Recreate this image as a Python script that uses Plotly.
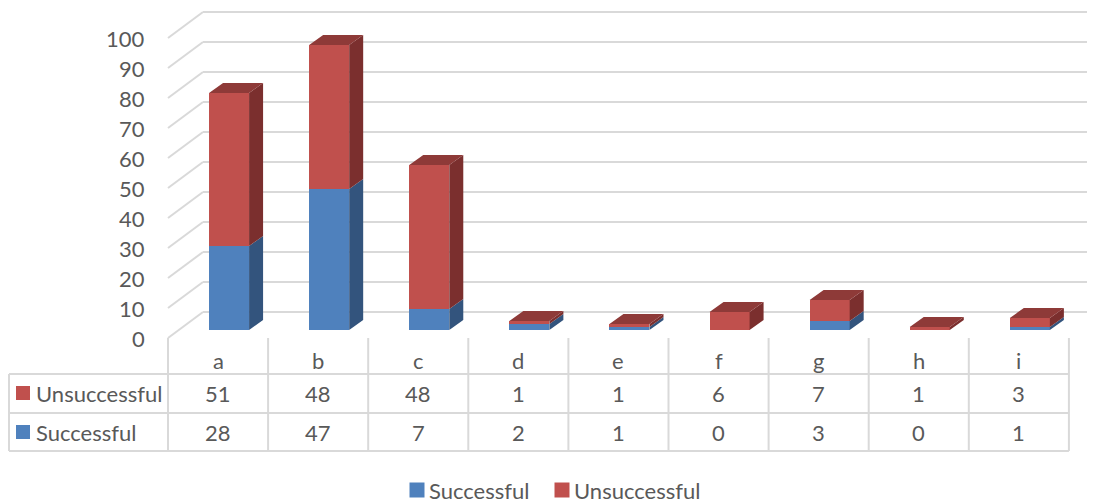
import plotly.graph_objects as go

# ---- data ----
categories = ['a', 'b', 'c', 'd', 'e', 'f', 'g', 'h', 'i']
successful = [28, 47, 7, 2, 1, 0, 3, 0, 1]
unsuccessful = [51, 48, 48, 1, 1, 6, 7, 1, 3]
y_ticks = [0, 10, 20, 30, 40, 50, 60, 70, 80, 90, 100]
series_names = ['Successful', 'Unsuccessful']

# ---- style ----
PAGE_OFF = 8                     # browser body margin
W, H = 1095 - PAGE_OFF, 503 - PAGE_OFF
FONT = 'Lato'
FS = 22
TXT = '#595959'
GRID = '#D9D9D9'
front_col = {'Successful': '#4F81BD', 'Unsuccessful': '#C0504D'}
side_col = {'Successful': '#33547D', 'Unsuccessful': '#7B2F2E'}
top_col = {'Successful': '#3F6A9C', 'Unsuccessful': '#8E3A38'}

# scales: x in category units (100.1 px each), y in value units (3 px each)
PX_X = 100.1
PX_Y = 3.0
def px2x(p):   # page pixel -> data x
    return -0.5 + (p - 168) / PX_X
def px2y(p):   # page pixel -> data y
    return (330 - p) / PX_Y

x_rng = [px2x(PAGE_OFF), px2x(PAGE_OFF + W)]
y_rng = [px2y(PAGE_OFF + H), px2y(PAGE_OFF)]

bar_shift = 0.11
bar_w = 0.40
dx = 14 / PX_X
dy = 10 / PX_Y
n = len(categories)

fig = go.Figure()

# ---- 3D side / top faces ----
vals = {'Successful': successful, 'Unsuccessful': unsuccessful}
side_x = {k: [] for k in series_names}
side_y = {k: [] for k in series_names}
top_x = {k: [] for k in series_names}
top_y = {k: [] for k in series_names}
for i in range(n):
    base = 0
    last = None
    for s in series_names:
        v = vals[s][i]
        if v <= 0:
            continue
        c = i + bar_shift
        x0, x1 = c - bar_w / 2, c + bar_w / 2
        b, t = base, base + v
        side_x[s] += [x1, x1 + dx, x1 + dx, x1, x1, None]
        side_y[s] += [b, b + dy, t + dy, t, b, None]
        base = t
        last = (s, x0, x1, t)
    if last:
        s, x0, x1, t = last
        top_x[s] += [x0, x0 + dx, x1 + dx, x1, x0, None]
        top_y[s] += [t, t + dy, t + dy, t, t, None]

for s in series_names:
    fig.add_trace(go.Scatter(x=side_x[s], y=side_y[s], fill='toself', mode='lines',
                             line=dict(width=0), fillcolor=side_col[s],
                             hoverinfo='skip', showlegend=False))
    fig.add_trace(go.Scatter(x=top_x[s], y=top_y[s], fill='toself', mode='lines',
                             line=dict(width=0), fillcolor=top_col[s],
                             hoverinfo='skip', showlegend=False))

# ---- front faces as stacked bars ----
for s in series_names:
    fig.add_trace(go.Bar(x=[i + bar_shift for i in range(n)], y=vals[s], width=bar_w,
                         marker=dict(color=front_col[s], line=dict(width=0)),
                         name=s, showlegend=False))

shapes = []
# back wall gridlines and side wall diagonals
for v in y_ticks:
    shapes.append(dict(type='line', layer='below', x0=px2x(203), x1=px2x(1095), y0=v + 6, y1=v + 6,
                       line=dict(color=GRID, width=2)))
    shapes.append(dict(type='line', layer='below', x0=px2x(168), x1=px2x(203),
                       y0=v - 8 / PX_Y, y1=v + 6, line=dict(color=GRID, width=2)))

# data table lines
tbl_left = px2x(9)
tbl_right = -0.5 + n
y_hdr_top = px2y(338)
y_r1 = px2y(374)
y_r2 = px2y(413)
y_r3 = px2y(451)
for yy in (y_r1, y_r2, y_r3):
    shapes.append(dict(type='line', layer='below', x0=tbl_left, x1=tbl_right, y0=yy, y1=yy,
                       line=dict(color=GRID, width=2)))
shapes.append(dict(type='line', layer='below', x0=tbl_left, x1=tbl_left, y0=y_r1, y1=y_r3,
                   line=dict(color=GRID, width=2)))
for k in range(n + 1):
    xx = -0.5 + k
    shapes.append(dict(type='line', layer='below', x0=xx, x1=xx, y0=y_hdr_top, y1=y_r3,
                       line=dict(color=GRID, width=2)))

annotations = []
# y tick labels
for v in y_ticks:
    annotations.append(dict(x=px2x(147), y=v - 8 / PX_Y, text=str(v), showarrow=False,
                            xanchor='right', yanchor='middle', font=dict(family=FONT, size=FS, color=TXT)))
# table content
row_y = {'Unsuccessful': px2y(393), 'Successful': px2y(432)}
for i, c in enumerate(categories):
    annotations.append(dict(x=i, y=px2y(360), text=c, showarrow=False,
                            xanchor='center', yanchor='middle', font=dict(family=FONT, size=FS, color=TXT)))
    for s in series_names:
        annotations.append(dict(x=i, y=row_y[s], text=str(vals[s][i]), showarrow=False,
                                xanchor='center', yanchor='middle', font=dict(family=FONT, size=FS, color=TXT)))
for s in series_names:
    annotations.append(dict(x=px2x(34), y=row_y[s], text=s, showarrow=False,
                            xanchor='left', yanchor='middle', font=dict(family=FONT, size=FS, color=TXT)))
    fig.add_trace(go.Scatter(x=[px2x(23)], y=[row_y[s]], mode='markers',
                             marker=dict(symbol='square', size=14, color=front_col[s]),
                             hoverinfo='skip', showlegend=False))

# bottom legend
leg_y = px2y(490)
leg_pos = {'Successful': (417, 427), 'Unsuccessful': (562, 572)}
for s in series_names:
    mx, tx = leg_pos[s]
    fig.add_trace(go.Scatter(x=[px2x(mx)], y=[leg_y], mode='markers',
                             marker=dict(symbol='square', size=15, color=front_col[s]),
                             hoverinfo='skip', showlegend=False))
    annotations.append(dict(x=px2x(tx), y=leg_y, text=s, showarrow=False,
                            xanchor='left', yanchor='middle', font=dict(family=FONT, size=FS, color=TXT)))

fig.update_layout(
    width=W, height=H,
    margin=dict(l=0, r=0, t=0, b=0),
    paper_bgcolor='white', plot_bgcolor='white',
    barmode='stack', bargap=0,
    xaxis=dict(range=x_rng, visible=False, fixedrange=True),
    yaxis=dict(range=y_rng, visible=False, fixedrange=True),
    shapes=shapes, annotations=annotations,
    showlegend=False,
)

fig.write_html('out.html')
